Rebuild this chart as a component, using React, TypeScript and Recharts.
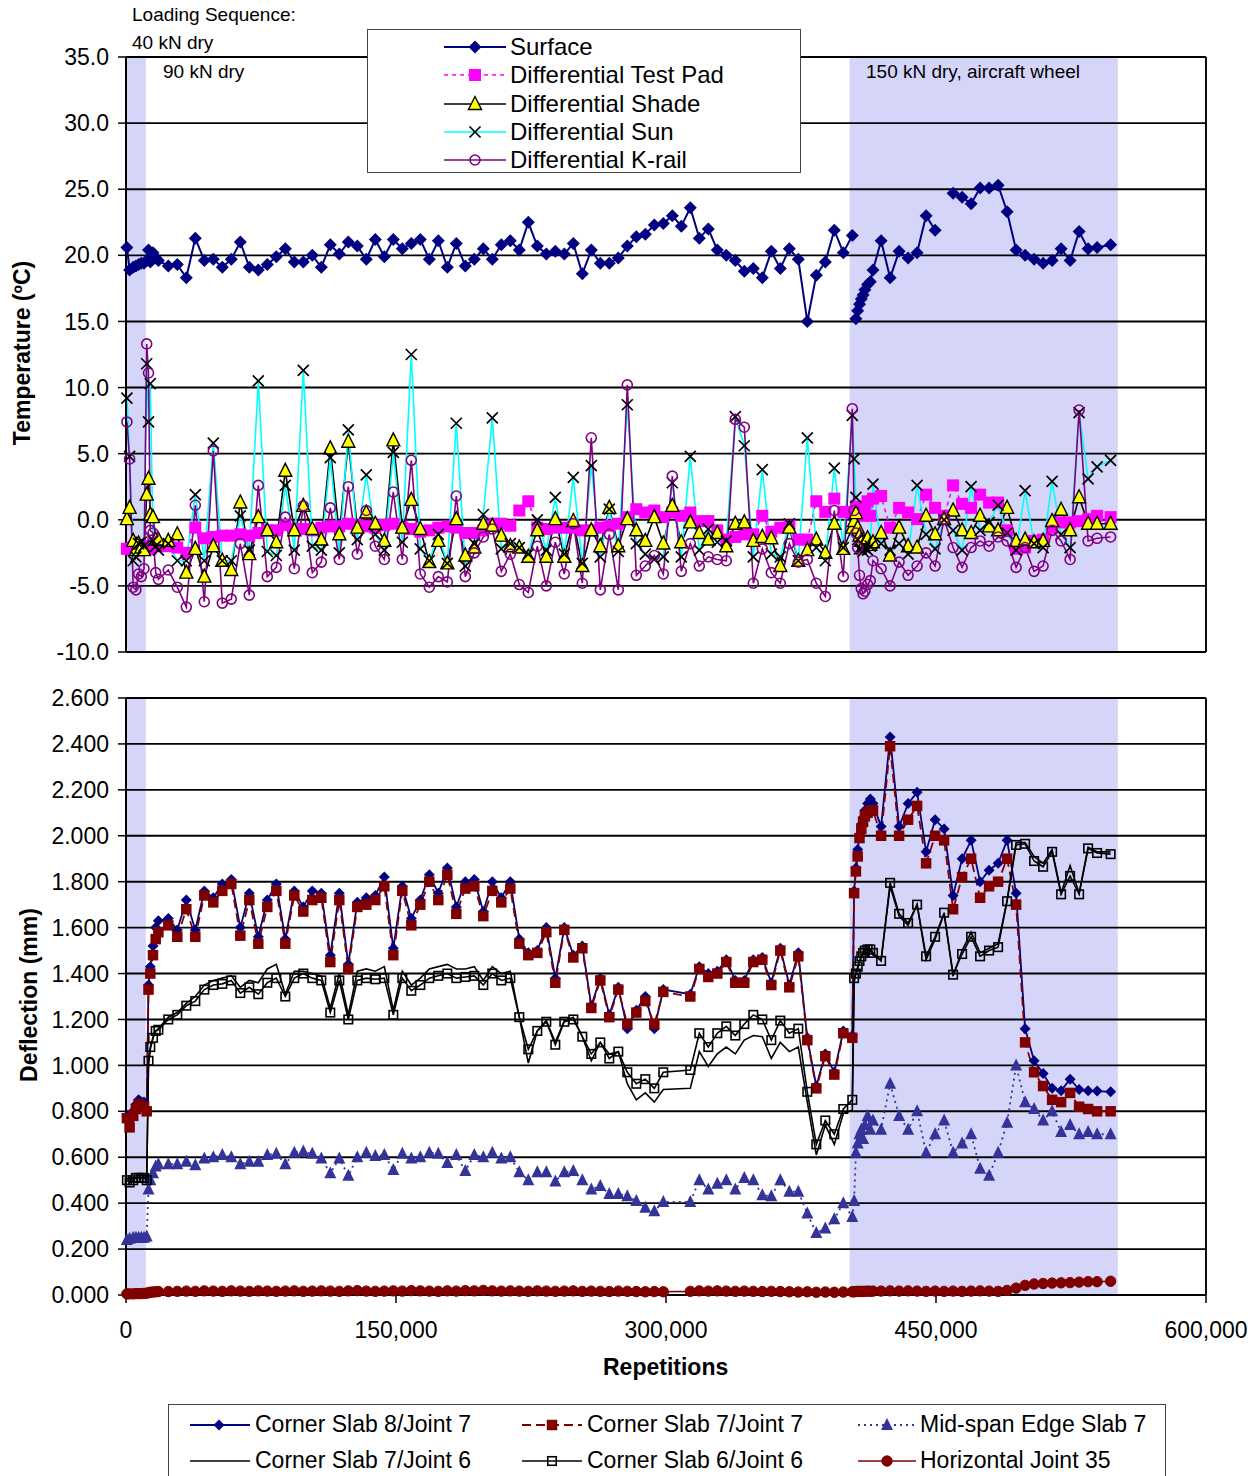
import React from 'react';
import { LineChart, Line, XAxis, YAxis, ReferenceArea, ReferenceLine } from 'recharts';

// repetitions at which readings were taken
const reps = [
  500, 2000, 4000, 5500, 7000, 8500, 10000, 11500, 12500, 13500, 15000, 16500, 18000,
  23500, 28500, 33500, 38500, 43500, 48500, 53500, 58500, 63500, 68500,
  73500, 78500, 83500, 88500, 93500, 98500, 103500, 108500, 113500, 118500,
  123500, 128500, 133500, 138500, 143500, 148500, 153500, 158500, 163500, 168500,
  173500, 178500, 183500, 188500, 193500, 198500, 203500, 208500, 213500, 218500,
  223500, 228500, 233500, 238500, 243500, 248500, 253500, 258500, 263500, 268500,
  273500, 278500, 283500, 288500, 293500, 298500, 303500, 308500, 313500, 318500,
  323500, 328500, 333500, 338500, 343500, 348500, 353500, 358500, 363500, 368500,
  373500, 378500, 383500, 388500, 393500, 398500, 403500,
  404500, 405500, 406500, 407500, 408500, 409500, 410500, 412000, 413500, 415000,
  419500, 424500, 429500, 434500, 439500, 444500, 449500, 454500, 459500, 464500,
  469500, 474500, 479500, 484500, 489500, 494500, 499500, 504500, 509500, 514500,
  519500, 524500, 529500, 534500, 539500,
  547000,
];

// temperatures (ºC)
const surface = [
  20.6, 18.9, 19.1, 19.2, 19.3, 19.4, 19.4, 19.6, 20.4, 19.5, 20.2, 19.8, 19.6,
  19.2, 19.3, 18.3, 21.3, 19.6, 19.7, 19.1, 19.7, 21.0, 19.1,
  18.9, 19.3, 19.9, 20.5, 19.5, 19.5, 20.0, 19.1, 20.8, 20.1,
  21.0, 20.7, 19.7, 21.2, 19.9, 21.2, 20.5, 20.9, 21.2, 19.7,
  21.1, 19.1, 20.9, 19.2, 19.7, 20.5, 19.7, 20.8, 21.1, 20.4,
  22.5, 20.7, 20.1, 20.3, 20.1, 20.9, 18.6, 20.4, 19.4, 19.4,
  19.8, 20.7, 21.4, 21.6, 22.3, 22.4, 23.0, 22.2, 23.6, 21.3,
  22.0, 20.4, 20.0, 19.6, 18.8, 19.0, 18.3, 20.3, 19.0, 20.5,
  19.7, 15.0, 18.5, 19.5, 21.9, 20.2, 21.5,
  null, 15.2, 15.8, 16.3, 16.7, 17.0, 17.4, 17.8, 18.0, 18.9,
  21.1, 18.3, 20.3, 19.8, 20.2, 23.0, 21.9, null, 24.7, 24.4,
  23.9, 25.1, 25.1, 25.3, 23.3, 20.4, 20.0, 19.7, 19.4, 19.6,
  20.5, 19.6, 21.8, 20.5, 20.6,
  20.8,
];

const testPad = [
  -2.2, -2.2, -2.1, -2.2, -2.0, -2.1, -2.0, -2.1, -2.0, -2.2, -1.8, -1.9, -2.0,
  -2.0, -2.1, -2.5, -0.6, -1.4, -1.3, -1.2, -1.2, -1.1, -1.2,
  -1.0, -0.8, -0.8, -0.4, -0.7, -0.7, -0.8, -0.6, -0.5, -0.5,
  -0.3, -0.4, -0.5, -0.6, -0.4, -0.3, -0.6, -0.7, -0.9, -0.8,
  -0.6, -0.5, -0.6, -1.0, -1.0, -0.8, -0.3, -0.3, -0.45, 0.7,
  1.4, -0.6, -0.7, -0.6, -0.6, -0.6, -0.8, -0.8, -0.6, -0.45,
  -0.3, 0.2, 0.8, 0.55, 0.7, 0.2, 0.55, 0.3, 0.55, -0.1,
  -0.1, -0.8, -1.5, -1.3, -1.1, -1.1, 0.3, -0.9, -0.6, -0.45,
  -1.5, -1.5, 1.4, 0.6, 1.6, 0.6, 0.55,
  0.5, 1.0, 0.5, 0.6, 0.8, 0.3, 1.0, 1.4, 0.3, 1.6,
  1.8, -0.6, 0.9, 0.55, 0.05, 1.9, 0.9, 0.3, 2.6, 1.2,
  0.9, 1.9, 1.3, 1.3, -0.8, -2.2, -2.1, -1.6, -1.5, -0.6,
  -0.2, -0.2, -0.1, 0.05, 0.3,
  0.2,
];

const shade = [
  0.05, 0.9, -1.6, -2.3, -1.8, -2.1, -2.3, 1.9, 3.1, 0.4, 0.2, -1.5, -1.5,
  -1.6, -1.1, -4.0, -2.2, -4.3, -2.0, -3.1, -3.8, 1.3, -2.6,
  0.2, -0.8, -1.7, 3.7, -0.8, 1.05, -0.7, -1.5, 5.4, -1.1,
  5.9, -0.6, 0.55, -0.3, -1.6, 6.0, -0.6, 1.5, -0.7, -3.2,
  -1.6, -3.3, 0.05, -2.7, -2.1, -0.3, -0.45, -1.2, -2.0, -2.1,
  -2.8, -0.8, -2.8, 0.05, -2.8, -0.1, -3.5, -0.8, -2.0, 0.9,
  -2.0, 0.05, -0.8, -1.6, 0.2, -1.8, 1.05, -1.7, -0.2, -1.0,
  -1.5, -1.0, -2.0, -0.3, -0.2, -1.6, -1.3, -1.4, -3.5, -0.6,
  -3.1, -2.3, -1.5, -2.5, -0.3, -2.2, -0.6,
  -0.1, 0.5, -0.6, -1.2, -1.6, -2.0, -1.7, -1.4, -1.9, -1.7,
  -1.0, -2.7, -0.6, -2.0, -2.1, 0.3, -1.1, 0.05, 0.7, -0.8,
  -1.0, 0.3, -0.5, -0.8, 0.9, -1.6, -1.5, -1.7, -1.6, -0.1,
  0.75, -0.8, 1.7, -0.3, -0.3,
  -0.3,
];

const sun = [
  9.2, 4.8, -3.1, -2.8, -1.8, -1.7, -2.0, 11.8, 7.4, 10.3, -1.6, -2.0, -2.3,
  -1.8, -3.1, -3.1, 1.9, -3.1, 5.8, -3.1, -3.1, 0.3, -2.3,
  10.5, -2.4, -2.7, 2.6, -2.3, 11.3, -2.0, -2.3, 4.7, -2.5,
  6.8, -1.5, 3.4, -1.1, -2.3, 5.1, -1.7, 12.5, -2.2, -3.1,
  -1.1, -3.3, 7.3, -3.5, -1.8, 0.4, 7.7, -2.2, -1.8, -2.1,
  -2.6, 0.0, -2.3, 1.7, -2.6, 3.2, -3.3, 4.1, -2.8, 0.8,
  -2.4, 8.7, -1.8, -2.6, -3.0, -2.8, 2.8, -2.8, 4.8, -2.3,
  -0.7, -1.7, -1.6, 7.8, 5.6, -2.8, 3.8, -2.6, -2.8, -0.3,
  -3.1, 6.2, -2.1, -3.1, 3.9, -2.1, 7.9,
  4.6, 1.7, -1.5, -2.2, -2.2, -2.4, -2.1, -2.3, -2.0, 2.7,
  -1.8, -2.3, -1.8, -2.6, 2.6, -1.1, -2.2, 0.0, -0.8, -2.3,
  2.5, -0.8, -0.2, 1.1, -1.0, -2.3, 2.2, -1.8, -2.1, 2.9,
  -1.1, -2.1, 8.1, 3.1, 4.0,
  4.5,
];

const kRail = [
  7.4, 4.6, -5.1, -5.3, -4.1, -4.3, -3.7, 13.3, 11.1, -0.8, -1.0, -4.0, -4.5,
  -3.8, -5.1, -6.6, 1.1, -6.2, 5.2, -6.3, -6.0, -1.8, -5.7,
  2.6, -4.3, -3.6, 0.2, -3.7, 1.05, -4.0, -3.2, 0.9, -3.0,
  2.5, -2.6, 0.7, -2.0, -3.0, 2.1, -3.0, 4.5, -4.1, -5.1,
  -4.3, -4.7, 1.8, -4.3, -2.5, -1.3, -0.7, -3.9, -2.6, -4.9,
  -5.5, -2.0, -5.0, -1.7, -4.1, -0.3, -4.8, 6.2, -5.3, -1.1,
  -5.3, 10.2, -4.2, -3.5, -2.7, -4.1, 3.3, -3.9, -1.8, -3.5,
  -2.8, -3.0, -3.1, 7.6, 7.0, -4.8, -2.2, -4.0, -4.8, -1.8,
  -3.2, -3.0, -4.8, -5.8, 0.7, -4.3, 8.4,
  0.7, -1.0, -2.1, -4.2, -5.2, -5.6, -5.4, -4.9, -4.6, -3.1,
  -3.7, -5.0, -3.2, -4.2, -3.5, -2.5, -3.5, 0.05, -2.1, -3.6,
  -2.1, -1.6, -2.0, -1.3, -1.6, -3.6, -2.1, -3.9, -3.5, -0.8,
  -1.6, -3.0, 8.3, -1.6, -1.4,
  -1.3,
];

// deflections (mm)
const cs8j7 = [
  0.78, 0.76, 0.80, 0.83, 0.85, 0.84, 0.84, 0.81, 1.35, 1.43, 1.52, 1.60, 1.63,
  1.64, 1.59, 1.72, 1.59, 1.76, 1.73, 1.79, 1.81, 1.60, 1.75,
  1.56, 1.72, 1.79, 1.55, 1.76, 1.69, 1.76, 1.75, 1.48, 1.75,
  1.44, 1.71, 1.73, 1.74, 1.82, 1.51, 1.78, 1.64, 1.72, 1.83,
  1.75, 1.86, 1.69, 1.80, 1.81, 1.67, 1.80, 1.73, 1.80, 1.55,
  1.49, 1.50, 1.60, 1.38, 1.60, 1.48, 1.52, 1.26, 1.38, 1.22,
  1.34, 1.16, 1.24, 1.30, 1.16, 1.33, null, null, 1.31, 1.43,
  1.40, 1.41, 1.46, 1.37, 1.37, 1.46, 1.47, 1.36, 1.51, 1.35,
  1.49, 1.12, 0.91, 1.05, 0.97, 1.15, 1.13,
  1.76, 1.86, 1.94, 2.00, 2.05, 2.08, 2.11, 2.14, 2.16, 2.14,
  2.04, 2.43, 2.04, 2.14, 2.19, 1.93, 2.07, 2.03, 1.74, 1.90,
  1.98, 1.80, 1.85, 1.88, 1.98, 1.75, 1.16, 1.02, 0.965, 0.90,
  0.89, 0.94, 0.895, 0.89, 0.888,
  0.885,
];

const cs7j7 = [
  0.77, 0.73, 0.78, 0.81, 0.83, 0.82, 0.82, 0.80, 1.33, 1.40, 1.48, 1.55, 1.58,
  1.61, 1.56, 1.68, 1.56, 1.74, 1.71, 1.76, 1.79, 1.565, 1.72,
  1.53, 1.69, 1.76, 1.53, 1.74, 1.67, 1.72, 1.73, 1.45, 1.72,
  1.42, 1.69, 1.70, 1.72, 1.78, 1.48, 1.76, 1.61, 1.70, 1.80,
  1.72, 1.83, 1.66, 1.77, 1.78, 1.65, 1.76, 1.71, 1.77, 1.53,
  1.48, 1.49, 1.58, 1.36, 1.59, 1.47, 1.51, 1.25, 1.37, 1.21,
  1.33, 1.18, 1.23, 1.28, 1.18, 1.32, null, null, 1.30, 1.42,
  1.385, 1.40, 1.45, 1.36, 1.36, 1.45, 1.46, 1.35, 1.50, 1.34,
  1.475, 1.11, 0.90, 1.04, 0.96, 1.14, 1.12,
  1.75, 1.845, 1.91, 1.99, 2.03, 2.06, 2.085, 2.10, 2.11, 2.11,
  2.00, 2.39, 2.00, 2.07, 2.13, 1.88, 2.00, 1.98, 1.68, 1.82,
  1.90, 1.73, 1.78, 1.80, 1.90, 1.70, 1.10, 0.97, 0.91, 0.85,
  0.84, 0.88, 0.82, 0.81, 0.80,
  0.80,
];

const midSpan = [
  0.24, 0.245, 0.25, 0.25, 0.25, 0.25, 0.25, 0.255, 0.46, 0.50, 0.53, 0.56, 0.57,
  0.57, 0.57, 0.58, 0.565, 0.595, 0.60, 0.61, 0.60, 0.57, 0.58,
  0.58, 0.61, 0.615, 0.57, 0.62, 0.625, 0.615, 0.595, 0.53, 0.595,
  0.52, 0.60, 0.62, 0.605, 0.61, 0.545, 0.615, 0.595, 0.60, 0.62,
  0.615, 0.575, 0.61, 0.54, 0.61, 0.60, 0.62, 0.595, 0.60, 0.535,
  0.50, 0.535, 0.535, 0.495, 0.535, 0.54, 0.50, 0.46, 0.475, 0.44,
  0.44, 0.43, 0.41, 0.38, 0.365, 0.405, null, null, 0.405, 0.50,
  0.46, 0.485, 0.50, 0.46, 0.51, 0.50, 0.435, 0.43, 0.50, 0.45,
  0.45, 0.355, 0.27, 0.29, 0.33, 0.40, 0.34,
  0.41, 0.62, 0.66, 0.70, 0.72, 0.68, 0.74, 0.78, 0.72, 0.76,
  0.72, 0.92, 0.78, 0.72, 0.80, 0.62, 0.70, 0.76, 0.62, 0.66,
  0.70, 0.55, 0.52, 0.62, 0.75, 1.00, 0.84, 0.81, 0.76, 0.80,
  0.71, 0.74, 0.70, 0.71, 0.70,
  0.70,
];

const cs7j6 = [
  0.50, 0.50, 0.51, 0.51, 0.52, 0.52, 0.52, 0.51, 1.00, 1.07, 1.12, 1.15, 1.16,
  1.21, 1.23, 1.27, 1.30, 1.35, 1.37, 1.38, 1.39, 1.34, 1.37,
  1.36, 1.42, 1.44, 1.31, 1.41, 1.41, 1.40, 1.39, 1.25, 1.40,
  1.22, 1.41, 1.42, 1.41, 1.43, 1.24, 1.41, 1.35, 1.38, 1.42,
  1.43, 1.44, 1.42, 1.42, 1.43, 1.37, 1.43, 1.40, 1.41, 1.21,
  1.01, 1.15, 1.195, 1.10, 1.195, 1.21, 1.125, 1.02, 1.10, 1.05,
  1.06, 0.92, 0.85, 0.88, 0.84, 0.895, null, null, 0.90, 1.06,
  0.995, 1.05, 1.08, 1.05, 1.11, 1.13, 1.125, 1.03, 1.10, 1.06,
  1.08, 0.84, 0.61, 0.74, 0.656, 0.79, 0.805,
  1.36, 1.40, 1.42, 1.45, 1.47, 1.49, 1.51, 1.52, 1.50, 1.48,
  1.46, 1.78, 1.65, 1.61, 1.70, 1.46, 1.55, 1.66, 1.39, 1.50,
  1.58, 1.49, 1.51, 1.53, 1.72, 1.97, 1.97, 1.91, 1.88, 1.94,
  1.75, 1.87, 1.75, 1.95, 1.93,
  1.93,
];

const cs6j6 = [
  0.50, 0.49, 0.50, 0.51, 0.51, 0.51, 0.51, 0.50, 1.02, 1.08, 1.12, 1.15, 1.155,
  1.20, 1.22, 1.26, 1.28, 1.33, 1.35, 1.355, 1.37, 1.315, 1.34,
  1.31, 1.36, 1.38, 1.30, 1.38, 1.40, 1.38, 1.37, 1.23, 1.37,
  1.20, 1.37, 1.38, 1.375, 1.38, 1.22, 1.38, 1.325, 1.35, 1.38,
  1.39, 1.40, 1.38, 1.385, 1.39, 1.35, 1.40, 1.37, 1.38, 1.21,
  1.07, 1.15, 1.19, 1.09, 1.19, 1.20, 1.125, 1.05, 1.10, 1.03,
  1.06, 0.97, 0.92, 0.94, 0.90, 0.97, null, null, 0.98, 1.14,
  1.08, 1.14, 1.17, 1.13, 1.18, 1.22, 1.20, 1.11, 1.195, 1.14,
  1.16, 0.885, 0.656, 0.76, 0.70, 0.81, 0.85,
  1.38, 1.40, 1.43, 1.455, 1.475, 1.49, 1.50, 1.505, 1.505, 1.49,
  1.455, 1.795, 1.66, 1.62, 1.70, 1.475, 1.56, 1.665, 1.395, 1.485,
  1.56, 1.475, 1.50, 1.515, 1.715, 1.96, 1.965, 1.89, 1.865, 1.93,
  1.745, 1.825, 1.745, 1.945, 1.925,
  1.92,
];

const hJoint35 = [
  0.005, 0.005, 0.005, 0.006, 0.006, 0.006, 0.007, 0.008, 0.010, 0.012, 0.013, 0.014, 0.015,
  0.015, 0.016, 0.017, 0.016, 0.018, 0.017, 0.016, 0.018, 0.017, 0.016,
  0.018, 0.017, 0.016, 0.017, 0.018, 0.016, 0.017, 0.018, 0.017, 0.016,
  0.018, 0.019, 0.017, 0.016, 0.017, 0.018, 0.017, 0.019, 0.018, 0.017,
  0.016, 0.018, 0.017, 0.019, 0.018, 0.020, 0.018, 0.017, 0.018, 0.017,
  0.016, 0.018, 0.017, 0.016, 0.017, 0.018, 0.016, 0.017, 0.016, 0.015,
  0.017, 0.016, 0.015, 0.014, 0.015, 0.014, null, null, 0.016, 0.018,
  0.017, 0.018, 0.017, 0.016, 0.017, 0.016, 0.015, 0.016, 0.015, 0.014,
  0.013, 0.014, 0.012, 0.013, 0.012, 0.013, 0.014,
  0.014, 0.015, 0.016, 0.015, 0.016, 0.015, 0.016, 0.017, 0.016, 0.017,
  0.017, 0.018, 0.017, 0.018, 0.017, 0.016, 0.017, 0.016, 0.017, 0.016,
  0.017, 0.018, 0.017, 0.016, 0.020, 0.030, 0.042, 0.048, 0.050, 0.052,
  0.053, 0.054, 0.056, 0.058, 0.058,
  0.060,
];

const tempTicks = [-10, -5, 0, 5, 10, 15, 20, 25, 30, 35];
const deflTicks = [0, 0.2, 0.4, 0.6, 0.8, 1.0, 1.2, 1.4, 1.6, 1.8, 2.0, 2.2, 2.4, 2.6];
const repTicks = [0, 150000, 300000, 450000, 600000];
// load stages shaded on both panels: 40 kN dry, 150 kN aircraft wheel
const bands: [number, number][] = [[0, 11000], [402000, 551000]];

const FONT = '"Liberation Sans", Arial, Helvetica, sans-serif';
const BAND = '#D5D5FA';
const GRID_W = 1.9;

type Pt = { cx: number; cy: number };

const diamond = (s: number, fill: string) => ({ cx, cy }: Pt) => (
  <path d={`M${cx},${cy - s}L${cx + s},${cy}L${cx},${cy + s}L${cx - s},${cy}Z`} fill={fill} />
);
const square = (s: number, fill: string, stroke = 'none', sw = 0) => ({ cx, cy }: Pt) => (
  <rect x={cx - s / 2} y={cy - s / 2} width={s} height={s} fill={fill} stroke={stroke} strokeWidth={sw} />
);
const triangle = (s: number, fill: string, stroke = 'none', sw = 0) => ({ cx, cy }: Pt) => (
  <path
    d={`M${cx},${cy - s * 0.58}L${cx + s / 2},${cy + s * 0.42}L${cx - s / 2},${cy + s * 0.42}Z`}
    fill={fill}
    stroke={stroke}
    strokeWidth={sw}
  />
);
const cross = (s: number, stroke: string) => ({ cx, cy }: Pt) => (
  <path
    d={`M${cx - s},${cy - s}L${cx + s},${cy + s}M${cx - s},${cy + s}L${cx + s},${cy - s}`}
    stroke={stroke}
    strokeWidth={1.7}
    fill="none"
  />
);
const circle = (r: number, fill: string, stroke: string, sw: number) => ({ cx, cy }: Pt) => (
  <circle cx={cx} cy={cy} r={r} fill={fill} stroke={stroke} strokeWidth={sw} />
);

const dotWith = (mark: ((p: Pt) => React.ReactNode) | null) => (p: any) => {
  const key = `d-${p.index}`;
  if (!mark || p.cx == null || p.cy == null || p.value == null || Number.isNaN(p.cy)) return <g key={key} />;
  return <g key={key}>{mark({ cx: p.cx, cy: p.cy })}</g>;
};

type Series = {
  key: string;
  name: string;
  color: string;
  width: number;
  dash?: string;
  mark: ((p: Pt) => React.ReactNode) | null;
  connect: boolean;
};

const topSeries: Series[] = [
  { key: 'surface', name: 'Surface', color: '#000080', width: 2, mark: diamond(6.5, '#000080'), connect: false },
  { key: 'testPad', name: 'Differential Test Pad', color: '#FF00FF', width: 1.6, dash: '4 4', mark: square(12, '#FF00FF'), connect: true },
  { key: 'shade', name: 'Differential Shade', color: '#000000', width: 1.6, mark: triangle(13, '#FFFF00', '#000', 1.4), connect: true },
  { key: 'sun', name: 'Differential Sun', color: '#00FFFF', width: 1.6, mark: cross(5.5, '#000'), connect: true },
  { key: 'kRail', name: 'Differential K-rail', color: '#800080', width: 1.6, mark: circle(5, 'none', '#800080', 1.6), connect: true },
];

const bottomSeries: Series[] = [
  { key: 'cs8j7', name: 'Corner Slab 8/Joint 7', color: '#000080', width: 1.8, mark: diamond(5.5, '#000080'), connect: true },
  { key: 'cs7j7', name: 'Corner Slab 7/Joint 7', color: '#800000', width: 1.8, dash: '9 5', mark: square(10.5, '#800000'), connect: true },
  { key: 'midSpan', name: 'Mid-span Edge Slab 7', color: '#333399', width: 1.8, dash: '2 4', mark: triangle(12, '#333399'), connect: true },
  { key: 'cs7j6', name: 'Corner Slab 7/Joint 6', color: '#000000', width: 1.6, mark: null, connect: true },
  { key: 'cs6j6', name: 'Corner Slab 6/Joint 6', color: '#000000', width: 1.6, mark: square(8.5, 'none', '#000', 1.6), connect: true },
  { key: 'hJoint35', name: 'Horizontal Joint 35', color: '#800000', width: 1.6, mark: circle(5.2, '#800000', '#800000', 1), connect: true },
];

const topRows = reps.map((rep, i) => ({
  rep,
  surface: surface[i],
  testPad: testPad[i],
  shade: shade[i],
  sun: sun[i],
  kRail: kRail[i],
}));

const bottomRows = reps.map((rep, i) => ({
  rep,
  cs8j7: cs8j7[i],
  cs7j7: cs7j7[i],
  midSpan: midSpan[i],
  cs7j6: cs7j6[i],
  cs6j6: cs6j6[i],
  hJoint35: hJoint35[i],
}));

const tickStyle = { fill: '#000', fontSize: 23, fontFamily: FONT };

function renderLines(series: Series[]) {
  return series.map((s) => (
    <Line
      key={s.key}
      type="linear"
      dataKey={s.key}
      name={s.name}
      stroke={s.color}
      strokeWidth={s.width}
      strokeDasharray={s.dash}
      dot={dotWith(s.mark)}
      activeDot={false}
      connectNulls={s.connect}
      isAnimationActive={false}
    />
  ));
}

function Text({ x, y, size, bold, children }: { x: number; y: number; size: number; bold?: boolean; children: React.ReactNode }) {
  return (
    <div
      style={{
        position: 'absolute',
        left: x,
        top: y - size * 0.6,
        fontSize: size,
        lineHeight: `${size * 1.2}px`,
        fontWeight: bold ? 'bold' : 'normal',
        whiteSpace: 'nowrap',
      }}
    >
      {children}
    </div>
  );
}

function VText({ x, y, children }: { x: number; y: number; children: React.ReactNode }) {
  return (
    <div
      style={{
        position: 'absolute',
        left: x,
        top: y,
        fontSize: 23,
        fontWeight: 'bold',
        whiteSpace: 'nowrap',
        transform: 'translate(-50%, -50%) rotate(-90deg)',
      }}
    >
      {children}
    </div>
  );
}

const topLegendRows = [47, 75, 104, 132, 160];
const bottomLegendCols = [
  { x1: 190, x2: 250, mx: 219, tx: 255 },
  { x1: 522, x2: 582, mx: 552, tx: 587 },
  { x1: 858, x2: 916, mx: 887, tx: 920 },
];
const bottomLegendRows = [1425, 1461];

export default function App() {
  return (
    <div
      style={{
        position: 'absolute',
        left: 0,
        top: 0,
        width: 1260,
        height: 1476,
        background: '#fff',
        fontFamily: FONT,
        color: '#000',
        overflow: 'hidden',
      }}
    >
      <div style={{ position: 'absolute', left: 0, top: 0 }}>
        <LineChart width={1260} height={700} data={topRows} margin={{ top: 57, right: 54, bottom: 48, left: 0 }}>
          <XAxis dataKey="rep" type="number" domain={[0, 600000]} hide />
          <YAxis
            type="number"
            domain={[-10, 35]}
            ticks={tempTicks}
            interval={0}
            width={126}
            tickSize={8}
            tickMargin={9}
            axisLine={{ stroke: '#000', strokeWidth: 2 }}
            tickLine={{ stroke: '#000', strokeWidth: 1.5 }}
            tick={tickStyle}
            tickFormatter={(v: number) => v.toFixed(1)}
          />
          {bands.map(([a, b]) => (
            <ReferenceArea key={`ba${a}`} x1={a} x2={b} fill={BAND} fillOpacity={1} stroke="none" />
          ))}
          {tempTicks.map((t) => (
            <ReferenceLine key={`tg${t}`} y={t} stroke="#000" strokeWidth={GRID_W} />
          ))}
          <ReferenceLine x={600000} stroke="#000" strokeWidth={GRID_W} />
          {renderLines(topSeries)}
        </LineChart>
      </div>

      <div style={{ position: 'absolute', left: 0, top: 680 }}>
        <LineChart width={1260} height={680} data={bottomRows} margin={{ top: 18, right: 54, bottom: 5, left: 0 }}>
          <XAxis
            dataKey="rep"
            type="number"
            domain={[0, 600000]}
            ticks={repTicks}
            interval={0}
            height={60}
            tickSize={8}
            tickMargin={19}
            axisLine={{ stroke: '#000', strokeWidth: 2 }}
            tickLine={{ stroke: '#000', strokeWidth: 1.5 }}
            tick={tickStyle}
            tickFormatter={(v: number) => v.toLocaleString('en-US')}
          />
          <YAxis
            type="number"
            domain={[0, 2.6]}
            ticks={deflTicks}
            interval={0}
            width={126}
            tickSize={8}
            tickMargin={9}
            axisLine={{ stroke: '#000', strokeWidth: 2 }}
            tickLine={{ stroke: '#000', strokeWidth: 1.5 }}
            tick={tickStyle}
            tickFormatter={(v: number) => v.toFixed(3)}
          />
          {bands.map(([a, b]) => (
            <ReferenceArea key={`bb${a}`} x1={a} x2={b} fill={BAND} fillOpacity={1} stroke="none" />
          ))}
          {deflTicks.map((t) => (
            <ReferenceLine key={`dg${t}`} y={t} stroke="#000" strokeWidth={GRID_W} />
          ))}
          <ReferenceLine x={600000} stroke="#000" strokeWidth={GRID_W} />
          {renderLines(bottomSeries)}
        </LineChart>
      </div>

      {/* legend boxes */}
      <div
        style={{
          position: 'absolute',
          left: 367,
          top: 29,
          width: 432,
          height: 142,
          background: '#fff',
          border: '1.5px solid #444',
        }}
      />
      <div
        style={{
          position: 'absolute',
          left: 168,
          top: 1404,
          width: 996,
          height: 90,
          background: '#fff',
          border: '1.5px solid #444',
        }}
      />

      <svg width={1260} height={1476} style={{ position: 'absolute', left: 0, top: 0, pointerEvents: 'none' }}>
        {topSeries.map((s, i) => {
          const y = topLegendRows[i];
          return (
            <g key={`tl${s.key}`}>
              <line x1={444} x2={506} y1={y} y2={y} stroke={s.color} strokeWidth={s.width} strokeDasharray={s.dash} />
              {s.mark && s.mark({ cx: 475, cy: y })}
            </g>
          );
        })}
        {bottomSeries.map((s, i) => {
          const c = bottomLegendCols[i % 3];
          const y = bottomLegendRows[Math.floor(i / 3)];
          return (
            <g key={`bl${s.key}`}>
              <line x1={c.x1} x2={c.x2} y1={y} y2={y} stroke={s.color} strokeWidth={s.width} strokeDasharray={s.dash} />
              {s.mark && s.mark({ cx: c.mx, cy: y })}
            </g>
          );
        })}
      </svg>

      {topSeries.map((s, i) => (
        <Text key={`tt${s.key}`} x={510} y={topLegendRows[i]} size={24}>
          {s.name}
        </Text>
      ))}
      {bottomSeries.map((s, i) => (
        <Text key={`bt${s.key}`} x={bottomLegendCols[i % 3].tx} y={bottomLegendRows[Math.floor(i / 3)]} size={23}>
          {s.name}
        </Text>
      ))}

      <Text x={132} y={15} size={19}>Loading Sequence:</Text>
      <Text x={132} y={43} size={19}>40 kN dry</Text>
      <Text x={163} y={72} size={19}>90 kN dry</Text>
      <Text x={866} y={72} size={19}>150 kN dry, aircraft wheel</Text>

      <VText x={22} y={353}>Temperature (ºC)</VText>
      <VText x={29} y={995}>Deflection (mm)</VText>
      <Text x={603} y={1368} size={23} bold>Repetitions</Text>
    </div>
  );
}
